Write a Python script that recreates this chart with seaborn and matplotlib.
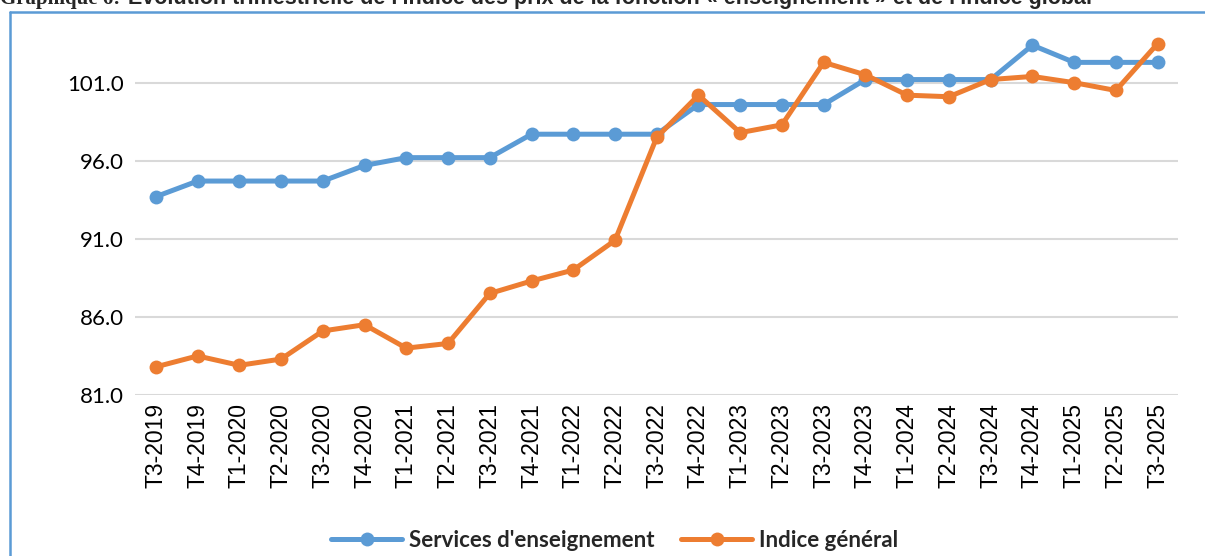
import matplotlib

matplotlib.use("Agg")

import matplotlib.pyplot as plt
import numpy as np
import pandas as pd
import seaborn as sns
from matplotlib.lines import Line2D

quarters = [
    "T3-2019", "T4-2019", "T1-2020", "T2-2020", "T3-2020", "T4-2020",
    "T1-2021", "T2-2021", "T3-2021", "T4-2021", "T1-2022", "T2-2022",
    "T3-2022", "T4-2022", "T1-2023", "T2-2023", "T3-2023", "T4-2023",
    "T1-2024", "T2-2024", "T3-2024", "T4-2024", "T1-2025", "T2-2025",
    "T3-2025",
]
enseignement = [
    93.7, 94.7, 94.7, 94.7, 94.7, 95.7, 96.2, 96.2, 96.2, 97.7, 97.7, 97.7,
    97.7, 99.6, 99.6, 99.6, 99.6, 101.2, 101.2, 101.2, 101.2, 103.4, 102.3,
    102.3, 102.3,
]
indice_general = [
    82.8, 83.5, 82.9, 83.3, 85.1, 85.5, 84.0, 84.3, 87.5, 88.3, 89.0, 90.9,
    97.5, 100.2, 97.8, 98.3, 102.3, 101.5, 100.2, 100.1, 101.2, 101.4, 101.0,
    100.5, 103.5,
]
y_ticks = [81.0, 86.0, 91.0, 96.0, 101.0]

series_names = ["Services d'enseignement", "Indice général"]
colors = ["#5B9BD5", "#ED7D31"]

df = pd.DataFrame({
    "pos": np.tile(np.arange(len(quarters)), 2),
    "valeur": enseignement + indice_general,
    "serie": np.repeat(series_names, len(quarters)),
})

sns.set_theme(style="white")

fig = plt.figure(figsize=(12.05, 5.56), dpi=100)
ax = fig.add_axes([0.112, 0.2896, 0.866, 0.66])

for name, color in zip(series_names, colors):
    sub = df[df["serie"] == name]
    sns.lineplot(
        data=sub, x="pos", y="valeur", ax=ax, color=color, linewidth=3.6,
        marker="o", markersize=10, markeredgewidth=0, sort=False, legend=False,
    )

ax.set_xlim(-0.5, len(quarters) - 0.5)
ax.set_ylim(81, 104.5)
ax.set_yticks(y_ticks)
ax.set_yticklabels([f"{v:.1f}" for v in y_ticks], fontsize=16, family="Lato", color="#000000")
ax.set_xticks(np.arange(len(quarters)))
ax.set_xticklabels(quarters, rotation=90, fontsize=16.5, family="Liberation Sans", color="#000000")
ax.tick_params(axis="both", length=0, pad=8)
ax.tick_params(axis="x", pad=6)
ax.set_xlabel("")
ax.set_ylabel("")
ax.grid(axis="y", color="#D9D9D9", linewidth=1.5)
ax.grid(axis="x", visible=False)
for spine in ax.spines.values():
    spine.set_visible(False)

handles = [
    Line2D([], [], color=c, linewidth=3.6, marker="o", markersize=10, markeredgewidth=0)
    for c in colors
]
fig.legend(
    handles, series_names, loc="center", bbox_to_anchor=(0.51, 0.028), ncol=2,
    frameon=False, handlelength=3.2, columnspacing=1.2, handletextpad=0.3,
    prop={"family": "Lato", "weight": "bold", "size": 16},
)

# cadre bleu du graphique
fig.add_artist(Line2D([10 / 1205, 10 / 1205], [0, 1 - 12 / 556], color="#5B9BD5", linewidth=1.8))
fig.add_artist(Line2D([10 / 1205, 1], [1 - 12 / 556, 1 - 12 / 556], color="#5B9BD5", linewidth=1.8))

# titre coupé en haut de l'image, comme dans l'original
fig.text(0.0, 1 - 4 / 556, "Graphique 6:", family="Liberation Serif", weight="bold",
         fontsize=15, va="baseline", ha="left")
fig.text(128 / 1205, 1 - 4 / 556,
         "Évolution trimestrielle de l'indice des prix de la fonction « enseignement » et de l'indice global",
         family="Liberation Sans", weight="bold", fontsize=15.5, va="baseline", ha="left")

fig.savefig("out.png", dpi=100)
